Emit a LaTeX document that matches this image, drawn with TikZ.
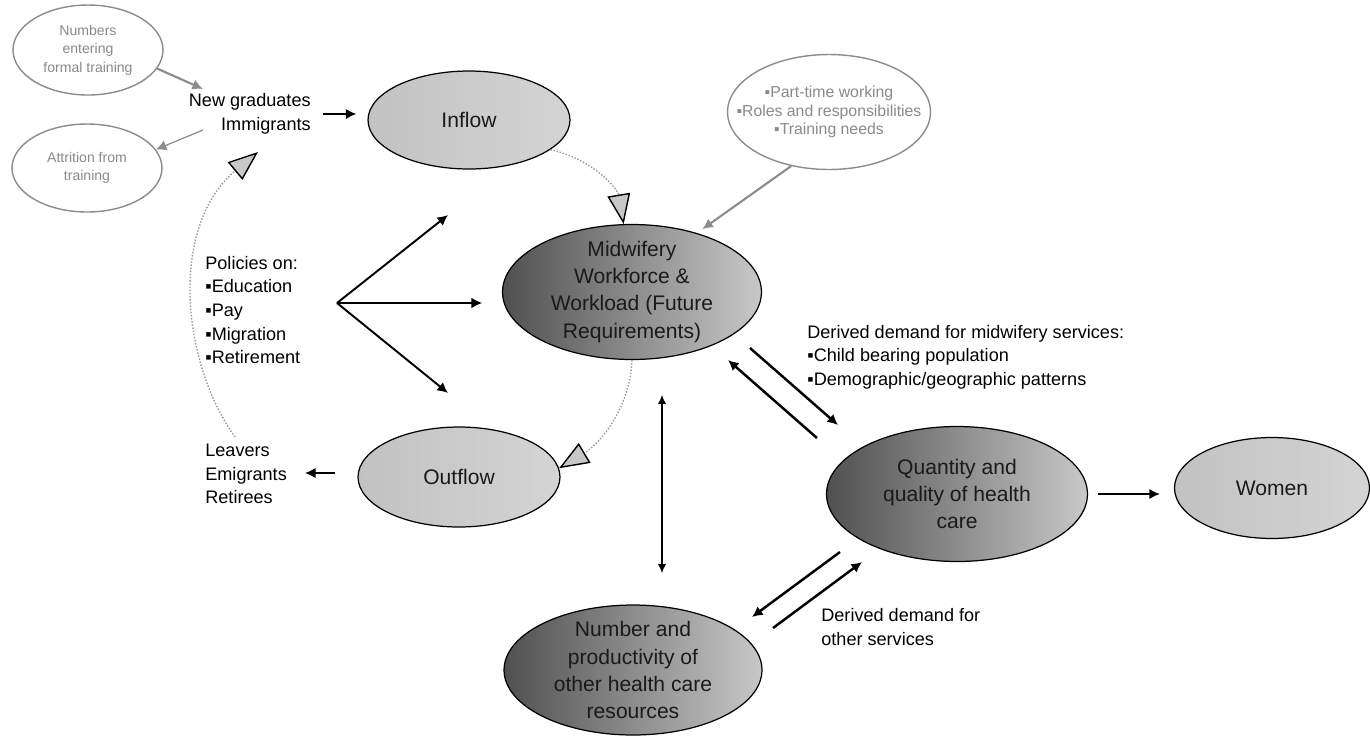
\documentclass[tikz,border=0pt]{standalone}
\usepackage{fontspec}
\setmainfont{Liberation Sans}
\usepackage{tikz}
\usetikzlibrary{arrows.meta,calc,shapes.geometric}
\definecolor{WfDark}{HTML}{505050}
\definecolor{WfMid}{HTML}{C8C8C8}
\definecolor{WfPale}{HTML}{C2C2C2}
\definecolor{WfLight}{HTML}{D4D4D4}
\definecolor{WfLine}{HTML}{8C8C8C}
\definecolor{WfDot}{HTML}{999999}
\definecolor{WfNote}{HTML}{8A8A8A}
\definecolor{WfInk}{HTML}{1A1A1A}
\tikzset{
  figlabel/.style={font=\fontsize{10.3}{13.4}\selectfont, text=black, align=left, inner sep=0pt},
  ellbody/.style={ellipse, draw=black, line width=0.7pt, align=center, text=WfInk, inner xsep=0pt, inner ysep=-4pt, font=\fontsize{12}{15.4}\selectfont},
  darkell/.style={ellbody, left color=WfDark, right color=WfMid},
  lightell/.style={ellbody, left color=WfPale, right color=WfLight},
  noteell/.style={ellipse, draw=WfLine, line width=0.8pt, align=center, text=WfNote, inner xsep=-14pt, inner ysep=0pt, font=\fontsize{8}{10.5}\selectfont},
  figarrow/.style={-{Latex[length=6pt,width=6pt]}, line width=1.4pt},
  thinarrow/.style={{Latex[length=5pt,width=4.5pt]}-{Latex[length=5pt,width=4.5pt]}, line width=0.6pt},
  notearrow/.style={-{Latex[length=6pt,width=6pt]}, draw=WfLine, line width=1.2pt},
  loopflow/.style={densely dotted, draw=WfDot, line width=0.8pt, -{Triangle[length=17pt,width=13pt,fill=WfMid,color=black,line width=0.8pt]}}
}
\begin{document}
\begin{tikzpicture}[x=0.02cm, y=-0.02cm]
\path[use as bounding box, fill=white] (0,0) rectangle (1370,735);
% side notes
\node[noteell, minimum width=3.0cm, minimum height=1.8cm] (enter) at (88,50) {Numbers\\entering\\formal training};
\node[noteell, minimum width=3.0cm, minimum height=1.76cm] (attr) at (87,168) {Attrition from\\training};
\node[noteell, minimum width=4.06cm, minimum height=2.3cm, font=\fontsize{9}{10.5}\selectfont] (needs) at (829,112) {▪Part-time working\\▪Roles and responsibilities\\▪Training needs};
% main ellipses
\node[lightell, minimum width=4.04cm, minimum height=1.96cm] (inflow) at (469,120) {Inflow};
\node[darkell, minimum width=5.18cm, minimum height=2.7cm] (work) at (632,292) {Midwifery\\Workforce \&\\Workload (Future\\Requirements)};
\node[lightell, minimum width=4.04cm, minimum height=2.0cm] (outflow) at (459,477) {Outflow};
\node[darkell, minimum width=5.22cm, minimum height=2.7cm] (qual) at (957,494) {Quantity and\\quality of health\\care};
\node[lightell, minimum width=3.9cm, minimum height=2.02cm] (women) at (1272,488) {Women};
\node[darkell, minimum width=5.16cm, minimum height=2.6cm] (other) at (633,670) {Number and\\productivity of\\other health care\\resources};
% plain labels
\node[figlabel, anchor=east, align=right] (grad) at (311,114) {New graduates\\Immigrants};
\node[figlabel, anchor=west] (pol) at (205,310) {Policies on:\\▪Education\\▪Pay\\▪Migration\\▪Retirement};
\node[figlabel, anchor=west] (leave) at (205,474) {Leavers\\Emigrants\\Retirees};
\node[figlabel, anchor=west] (midd) at (807,357) {Derived demand for midwifery services:\\▪Child bearing population\\▪Demographic/geographic patterns};
\node[figlabel, anchor=west] (othd) at (821,627) {Derived demand for\\other services};
% free ends
\coordinate (enterend) at (203,89);
\coordinate (gradout) at (203,130);
\coordinate (leavetop) at (235,437);
\coordinate (gradfoot) at (258,152);
\coordinate (polhub) at (337,303);
\coordinate (vtop) at (662,395);
\coordinate (vbot) at (662,573);
\coordinate (lvfrom) at (335,473);
\coordinate (lvto) at (305,473);
\coordinate (wqfrom) at (750,348);
\coordinate (wqto) at (838,425);
\coordinate (qwfrom) at (817,438);
\coordinate (qwto) at (728,360);
\coordinate (qofrom) at (840,552);
\coordinate (qoto) at (752,617);
\coordinate (oqfrom) at (773,628);
\coordinate (oqto) at (862,562);
% note arrows
\draw[notearrow] (enter.-15) -- (enterend);
\draw[notearrow, line width=0.7pt] (gradout) -- (attr.15);
\draw[notearrow] (needs.-125) -- ([shift={(5,-4)}]work.42);
% flows
\draw[figarrow, shorten <=0.24cm, shorten >=0.22cm] (grad.east) -- (grad.east -| inflow.west);
\draw[loopflow] (inflow.-20) .. controls (595,160) and (618,190) .. (work.97);
\draw[loopflow] (work.south) .. controls (630,410) and (598,445) .. (outflow.5);
\draw[loopflow] (leavetop) .. controls (180,360) and (170,225) .. (gradfoot);
\draw[figarrow] (lvfrom) -- (lvto);
% policies
\foreach \ex/\ey/\lw in {448/215/1.1pt, 482/303/0.7pt, 448/393/1.1pt}
  \draw[figarrow, line width=\lw] (polhub) -- (\ex,\ey);
% links between the big ellipses
\draw[thinarrow] (vtop) -- (vbot);
\draw[figarrow] (wqfrom) -- (wqto);
\draw[figarrow] (qwfrom) -- (qwto);
\draw[figarrow, shorten <=0.2cm, shorten >=0.28cm] (qual.east) -- (qual.east -| women.west);
\draw[figarrow] (qofrom) -- (qoto);
\draw[figarrow] (oqfrom) -- (oqto);
\end{tikzpicture}
\end{document}
